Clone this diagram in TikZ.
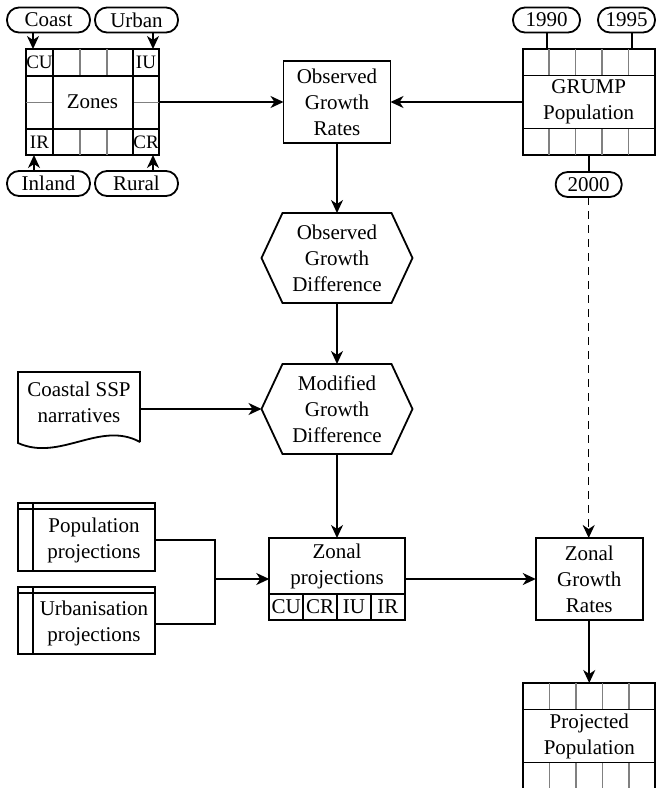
\documentclass[tikz,border=0pt]{standalone}
\usepackage{fontspec}
\setmainfont{Liberation Serif}
\usetikzlibrary{positioning,arrows.meta,calc}
\definecolor{gridgrey}{gray}{0.5}

\begin{document}
\begin{tikzpicture}[x=1pt,y=-1pt,
  txt/.style={font=\fontsize{21}{26}\selectfont,align=center,inner sep=0pt,outer sep=0pt},
  box/.style={txt,rectangle,draw,line width=1.8pt,minimum width=107pt,minimum height=82pt},
  pill/.style={txt,rectangle,rounded corners=12pt,draw,line width=1.8pt,minimum height=25pt},
  hexa/.style={txt,minimum width=109pt,minimum height=90pt},
  cell/.style={font=\fontsize{19}{21}\selectfont,inner sep=0pt},
  frame/.style={line width=1.8pt},
  sub/.style={gridgrey,line width=1.5pt},
  conn/.style={line width=2pt},
  arr/.style={-{Stealth[length=13pt,width=12pt,inset=4pt]},line width=2pt}
]
\useasboundingbox (0,0) rectangle (661,788);

% zones grid
\node[box,minimum width=133pt,minimum height=106pt] (zones) at (92.5,102) {Zones};
\foreach \x in {80,107} {\draw[sub] (\x,49) -- (\x,76); \draw[sub] (\x,129) -- (\x,155);}
\foreach \x in {26,133} \draw[sub] (\x,102.5) -- ({\x+26.5},102.5);
\draw[frame] (53,49) -- (53,155) (133,49) -- (133,155) (26,76) -- (159,76) (26,129) -- (159,129);
\node[cell] (cu) at (39.5,62.5) {CU};
\node[cell] (iu) at (146,62.5) {IU};
\node[cell] (ir) at (39.5,142) {IR};
\node[cell] (cr) at (146,142) {CR};

\node[pill,minimum width=83pt] (coast) at (48.5,20) {Coast};
\node[pill,minimum width=83pt] (urban) at (136.5,20) {Urban};
\node[pill,minimum width=83pt] (inland) at (48.5,183.5) {Inland};
\node[pill,minimum width=83pt] (rural) at (136.5,183.5) {Rural};
\draw[arr] ([xshift=-15.5pt]coast.south) -- ([xshift=-15.5pt]coast.south |- zones.north);
\draw[arr] ([xshift=16.5pt]urban.south) -- ([xshift=16.5pt]urban.south |- zones.north);
\draw[arr] ([xshift=-14.5pt]inland.north) -- ([xshift=-14.5pt]inland.north |- zones.south);
\draw[arr] ([xshift=16.5pt]rural.north) -- ([xshift=16.5pt]rural.north |- zones.south);

% main column
\node[box] (ogr) at (337,102) {Observed\\Growth\\Rates};
\node[hexa,below=70pt of ogr] (ogd) {Observed\\Growth\\Difference};
\node[hexa,below=61pt of ogd] (mgd) {Modified\\Growth\\Difference};
\foreach \h in {ogd,mgd}
  \draw[frame] (\h.north west) -- (\h.north east) -- ([xshift=21pt]\h.east) -- (\h.south east)
    -- (\h.south west) -- ([xshift=-21pt]\h.west) -- cycle;
\node[box,minimum width=135.5pt,minimum height=82pt,below=84pt of mgd] (zp) {};
\node[txt] (zptxt) at ($(zp.north)+(0,28)$) {Zonal\\projections};
\foreach \t [count=\i] in {CU,CR,IU,IR}
  \node[txt,draw,line width=1.8pt,minimum width=33.875pt,minimum height=26pt,anchor=south west]
    (zc\i) at ($(zp.south west)+({33.875*(\i-1)},0)$) {\t};

% GRUMP and projected grids
\node[box,minimum width=132pt,minimum height=106pt] (grump) at (588.7,102) {GRUMP\\Population};
\node[box,right=131pt of zp] (zgr) {Zonal\\Growth\\Rates};
\node[box,minimum width=132pt,minimum height=106pt,below=63pt of zgr] (proj) {Projected\\Population};
\foreach \g in {grump,proj} {
  \foreach \i in {1,...,4} {
    \draw[sub] ($(\g.north west)+({26.4*\i},0)$) -- ++(0,26.5);
    \draw[sub] ($(\g.south west)+({26.4*\i},0)$) -- ++(0,-26.5);
  }
  \draw[frame] ([yshift=-26.5pt]\g.north west) -- ([yshift=-26.5pt]\g.north east);
  \draw[frame] ([yshift=26.5pt]\g.south west) -- ([yshift=26.5pt]\g.south east);
}
\node[pill,minimum width=67pt] (y1990) at (546.5,20) {1990};
\node[pill,minimum width=57pt] (y1995) at (626.5,20) {1995};
\node[pill,minimum width=66pt] (y2000) at (588.7,184.5) {2000};
\draw[conn] (y1990.south) -- (y1990.south |- grump.north);
\draw[conn] ([xshift=5pt]y1995.south) -- ([xshift=5pt]y1995.south |- grump.north);
\draw[conn] (grump.south) -- (y2000.north);
\draw[arr,line width=1.5pt,dash pattern=on 8pt off 6pt] (y2000.south) -- (y2000.south |- zgr.north);

% inputs on the left
\node[txt,minimum width=122pt,minimum height=60pt] (ssp) at (79,402) {Coastal SSP\\narratives};
\draw[frame] ([yshift=-10pt]ssp.south east) -- (ssp.north east) -- (ssp.north west)
  -- ([yshift=-11pt]ssp.south west) .. controls +(42,19) and +(-40,-22) .. ([yshift=-10pt]ssp.south east);
\node[txt,minimum width=122pt,minimum height=62pt] (pop) at (94,540) {Population\\projections};
\node[txt,minimum width=122pt,minimum height=61pt] (urb) at (94,623.5) {Urbanisation\\projections};
\foreach \n in {pop,urb} {
  \draw[frame] ([xshift=-15pt,yshift=6pt]\n.north west) rectangle (\n.south east);
  \draw[frame] ([xshift=-15pt]\n.north west) -- (\n.north east);
  \draw[frame] ([yshift=6pt]\n.north west) -- (\n.south west);
}
\coordinate (merge) at ($(zp.west)+(-54,0)$);
\coordinate (mgdw) at ([xshift=-21pt]mgd.west);

% connectors
\draw[arr] (zones.east) -- (ogr.west);
\draw[arr] (grump.west) -- (ogr.east);
\draw[arr] (ogr.south) -- (ogd.north);
\draw[arr] (ogd.south) -- (mgd.north);
\draw[arr] (ssp.east |- mgdw) -- (mgdw);
\draw[arr] (mgd.south) -- (zp.north);
\draw[conn] (pop.east) -| (merge);
\draw[conn] (urb.east) -| (merge);
\draw[arr] (merge) -- (zp.west);
\draw[arr] (zp.east) -- (zgr.west);
\draw[arr] (zgr.south) -- (proj.north);
\end{tikzpicture}
\end{document}
